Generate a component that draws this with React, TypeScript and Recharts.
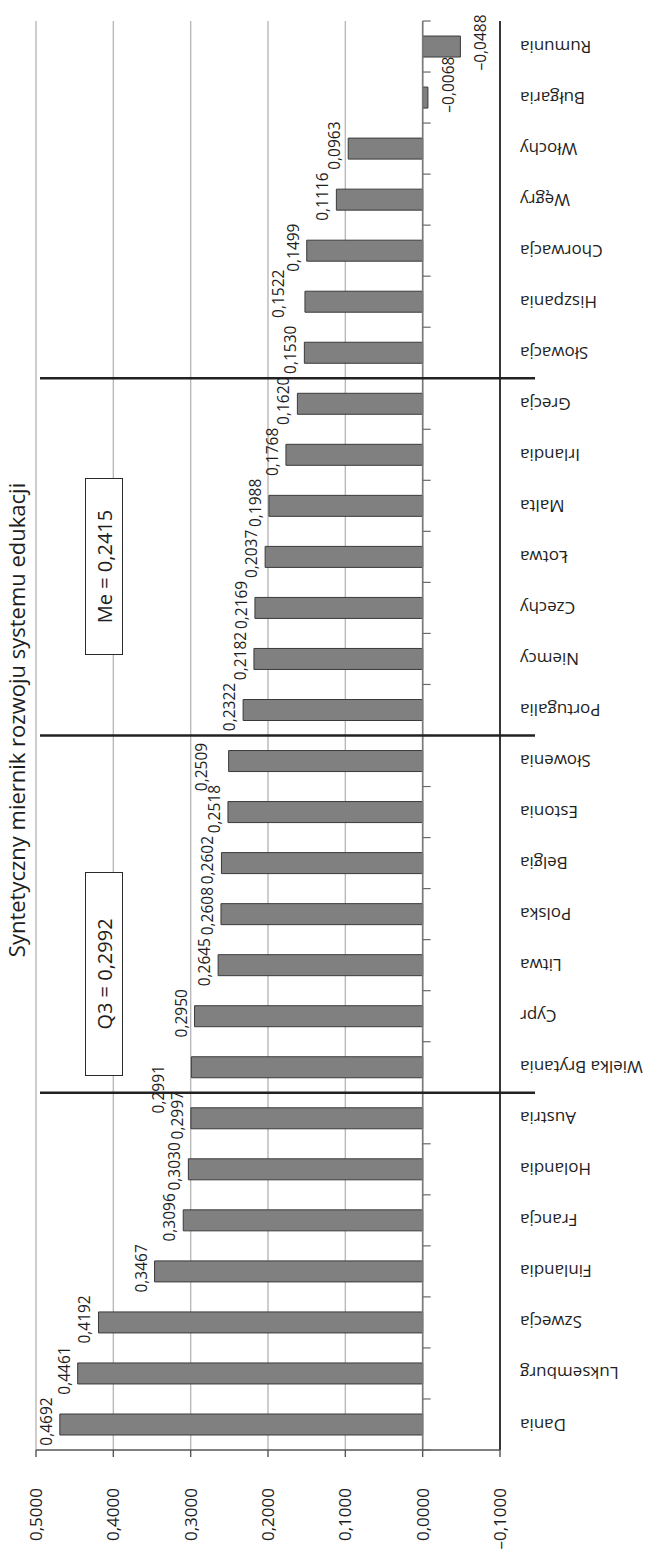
import React from 'react';
import { BarChart, Bar, XAxis, YAxis, CartesianGrid, ReferenceLine, LabelList } from 'recharts';

// Synthetic education-system development index, EU-28 countries
const countries = [
  'Dania', 'Luksemburg', 'Szwecja', 'Finlandia', 'Francja', 'Holandia', 'Austria',
  'Wielka Brytania', 'Cypr', 'Litwa', 'Polska', 'Belgia', 'Estonia', 'Słowenia',
  'Portugalia', 'Niemcy', 'Czechy', 'Łotwa', 'Malta', 'Irlandia', 'Grecja',
  'Słowacja', 'Hiszpania', 'Chorwacja', 'Węgry', 'Włochy', 'Bułgaria', 'Rumunia',
];
const indexValues = [
  0.4692, 0.4461, 0.4192, 0.3467, 0.3096, 0.3030, 0.2997,
  0.2991, 0.2950, 0.2645, 0.2608, 0.2602, 0.2518, 0.2509,
  0.2322, 0.2182, 0.2169, 0.2037, 0.1988, 0.1768, 0.1620,
  0.1530, 0.1522, 0.1499, 0.1116, 0.0963, -0.0068, -0.0488,
];
const valueTicks = [-0.1, 0, 0.1, 0.2, 0.3, 0.4, 0.5];
// first country of each quartile group (a divider is drawn before it)
const groupStarts = ['Wielka Brytania', 'Portugalia', 'Słowacja'];
const chartTitle = 'Syntetyczny miernik rozwoju systemu edukacji';
const q3Note = 'Q3 = 0,2992';
const medianNote = 'Me = 0,2415';

const data = countries.map((name, i) => ({ name, value: indexValues[i] }));

// Layout (chart is drawn in landscape and turned a quarter-turn on the page)
const W = 1555;
const H = 658;
const PLOT_LEFT = 105;
const PLOT_RIGHT = 1534;
const PLOT_TOP = 36;
const PLOT_BOTTOM = 500;
const Y_MIN = -0.1;
const Y_MAX = 0.5;
const BAND = (PLOT_RIGHT - PLOT_LEFT) / countries.length;
const ZERO_Y = PLOT_TOP + ((Y_MAX - 0) / (Y_MAX - Y_MIN)) * (PLOT_BOTTOM - PLOT_TOP);

const FONT = "'Open Sans', 'DejaVu Sans', sans-serif";
const TEXT = '#1e1e1e';

// small hand placements of individual value labels: along = sideways, away = further from bar
const labelOffsets: Record<string, { along: number; away: number }> = {
  'Wielka Brytania': { along: -22, away: 19 },
  'Słowenia': { along: -6, away: 14 },
  'Hiszpania': { along: 8, away: 13 },
  'Bułgaria': { along: 13, away: 0 },
};

const fmt = (v: number) => (v < 0 ? '\u2013' : '') + Math.abs(v).toFixed(4).replace('.', ',');

const ValueTick = (props: any) => {
  const { y, payload } = props;
  return (
    <text x={PLOT_LEFT - 38} y={y} dy="0.35em" textAnchor="end" fontSize={17} fill={TEXT} fontFamily={FONT}>
      {fmt(payload.value)}
    </text>
  );
};

const CategoryTick = (props: any) => {
  const { x, payload, index } = props;
  const name = payload.value as string;
  const left = x - BAND / 2;
  const right = x + BAND / 2;
  return (
    <g>
      <line x1={left} x2={left} y1={ZERO_Y} y2={ZERO_Y + 8} stroke="#6a6a6a" strokeWidth={1.2} />
      {index === countries.length - 1 && (
        <line x1={right} x2={right} y1={ZERO_Y} y2={ZERO_Y + 8} stroke="#6a6a6a" strokeWidth={1.2} />
      )}
      {groupStarts.includes(name) && (
        <line x1={left} x2={left} y1={40} y2={535} stroke="#222" strokeWidth={2.5} />
      )}
      <text
        transform={`translate(${x}, ${PLOT_BOTTOM + 20}) rotate(-90)`}
        dy="0.35em"
        textAnchor="end"
        fontSize={17}
        fill={TEXT}
        fontFamily={FONT}
      >
        {name}
      </text>
    </g>
  );
};

const ValueLabel = (props: any) => {
  const { x, y, width, height, value, index } = props;
  const v = Number(value);
  const name = countries[index];
  const off = labelOffsets[name] || { along: v >= 0 ? 3 : 4, away: 0 };
  const cx = x + width / 2 + off.along;
  const top = Math.min(y, y + height);
  const bottom = Math.max(y, y + height);
  const baseY = v >= 0 ? top - 8 - off.away : bottom + 26 + off.away;
  return (
    <text x={cx} y={baseY} textAnchor="middle" fontSize={15.5} fill={TEXT} fontFamily={FONT}>
      {fmt(v)}
    </text>
  );
};

const noteBox = (x1: number, x2: number): React.CSSProperties => ({
  position: 'absolute',
  left: x1,
  top: 85,
  width: x2 - x1,
  height: 38,
  boxSizing: 'border-box',
  border: '1.3px solid #2a2a2a',
  background: '#fff',
  display: 'flex',
  alignItems: 'center',
  justifyContent: 'center',
  fontFamily: FONT,
  fontSize: 20,
  color: TEXT,
  whiteSpace: 'nowrap',
});

export default function App() {
  return (
    <div style={{ position: 'absolute', left: 0, top: 0, width: 658, height: 1555, overflow: 'hidden', background: '#fff' }}>
      <div
        style={{
          position: 'absolute',
          left: 0,
          top: 0,
          width: W,
          height: H,
          transformOrigin: 'top left',
          transform: 'rotate(-90deg) translateX(-100%)',
        }}
      >
        <BarChart
          width={W}
          height={H}
          data={data}
          margin={{ top: PLOT_TOP, right: W - PLOT_RIGHT, bottom: 128, left: 0 }}
          barCategoryGap={0}
        >
          <CartesianGrid vertical={false} stroke="#b8b8b8" strokeWidth={1.4} />
          <XAxis
            dataKey="name"
            type="category"
            interval={0}
            height={30}
            tickLine={false}
            axisLine={{ stroke: '#111', strokeWidth: 1.6 }}
            tick={(p: any) => <CategoryTick {...p} />}
          />
          <YAxis
            type="number"
            domain={[Y_MIN, Y_MAX]}
            ticks={valueTicks}
            interval={0}
            width={PLOT_LEFT}
            tickSize={7}
            allowDataOverflow
            axisLine={{ stroke: '#555', strokeWidth: 1.4 }}
            tickLine={{ stroke: '#555', strokeWidth: 1.4 }}
            tick={(p: any) => <ValueTick {...p} />}
          />
          <ReferenceLine y={0} stroke="#7a7a7a" strokeWidth={1.6} />
          <Bar dataKey="value" fill="#808080" stroke="#3a3a3a" strokeWidth={1} barSize={21} isAnimationActive={false}>
            <LabelList dataKey="value" content={(p: any) => <ValueLabel {...p} />} />
          </Bar>
        </BarChart>
        <div
          style={{
            position: 'absolute',
            left: 835 - 400,
            width: 800,
            top: 2,
            height: 28,
            lineHeight: '28px',
            textAlign: 'center',
            fontFamily: FONT,
            fontSize: 22,
            color: TEXT,
            whiteSpace: 'nowrap',
          }}
        >
          {chartTitle}
        </div>
        <div style={noteBox(479, 683)}>{q3Note}</div>
        <div style={noteBox(900, 1077)}>{medianNote}</div>
      </div>
    </div>
  );
}
